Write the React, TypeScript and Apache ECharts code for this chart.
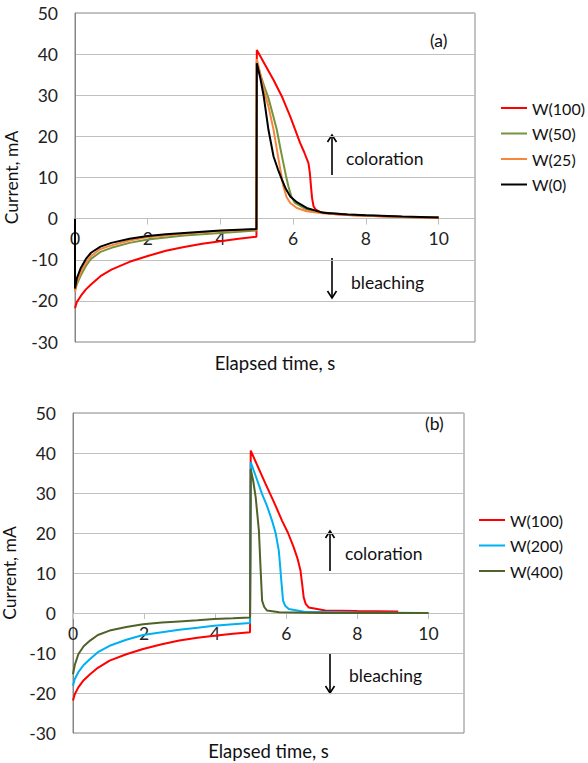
import React, { useEffect, useRef } from "react";
import * as echarts from "echarts";

type Pt = [number, number];

// ---------- Chart (a) ----------
const a_W100: Pt[] = [
  [0, -21.8], [0.05, -20.3], [0.16, -18.8], [0.3, -17.2], [0.44, -16], [0.7, -14], [1, -12.4],
  [1.5, -10.5], [2, -9.1], [2.5, -7.8], [3, -6.9], [3.5, -6.1], [4, -5.5], [4.5, -4.9], [4.99, -4.4],
  [5.0, 41], [5.46, 33.7], [5.7, 29.5], [5.92, 24.8], [6.19, 18.4], [6.3, 16.2], [6.42, 13.5],
  [6.46, 11], [6.49, 7.8], [6.52, 5], [6.56, 3], [6.62, 2.2], [6.75, 1.6], [7, 1.2], [7.5, 0.9],
  [8, 0.7], [9, 0.4], [10, 0.3],
];
const a_W50: Pt[] = [
  [0, -17.5], [0.05, -16], [0.16, -13.8], [0.3, -11.5], [0.44, -9.8], [0.7, -8.1], [1, -7.1],
  [1.5, -5.9], [2, -5.1], [2.5, -4.6], [3, -4.1], [3.5, -3.8], [4, -3.5], [4.5, -3.2], [4.99, -2.9],
  [5.0, 38], [5.1, 35], [5.2, 32.3], [5.32, 29.3], [5.45, 25], [5.55, 21.6], [5.65, 17], [5.73, 13.5],
  [5.8, 10.5], [5.87, 7.8], [5.95, 5.4], [6.05, 3.8], [6.37, 2.2], [6.8, 1.5], [7.5, 1.0], [8, 0.8],
  [9, 0.4], [10, 0.3],
];
const a_W25: Pt[] = [
  [0, -17.8], [0.05, -15.5], [0.16, -13], [0.3, -10.7], [0.44, -9.1], [0.7, -7.4], [1, -6.5],
  [1.5, -5.3], [2, -4.5], [2.5, -4.1], [3, -3.7], [3.5, -3.3], [4, -3.0], [4.5, -2.8], [4.99, -2.6],
  [5.0, 38.8], [5.1, 35], [5.2, 31], [5.32, 27.3], [5.46, 21.6], [5.6, 14.3], [5.73, 7.8], [5.82, 5.2],
  [5.92, 3.8], [6.1, 2.6], [6.37, 1.8], [6.8, 1.3], [7.5, 0.9], [8, 0.7], [9, 0.4], [10, 0.3],
];
const a_W0: Pt[] = [
  [0, 0], [0, -17], [0.05, -14.5], [0.16, -12], [0.3, -9.8], [0.44, -8.3], [0.7, -6.8], [1, -5.9],
  [1.5, -4.9], [2, -4.2], [2.5, -3.8], [3, -3.5], [3.5, -3.2], [4, -2.9], [4.5, -2.7], [4.99, -2.5],
  [5.0, 37.8], [5.1, 34], [5.19, 29.7], [5.32, 21.6], [5.46, 15.1], [5.58, 12], [5.69, 9.5], [5.8, 7.2],
  [5.92, 5.4], [6.1, 4], [6.37, 2.6], [6.83, 1.4], [7.5, 1.0], [8, 0.8], [9, 0.5], [10, 0.3],
];

// ---------- Chart (b) ----------
const b_W100: Pt[] = [
  [0, -21.9], [0.05, -20.3], [0.15, -18.6], [0.3, -16.8], [0.48, -15.3], [0.7, -13.7], [1.03, -11.9],
  [1.5, -10.3], [1.97, -9.0], [2.5, -7.8], [2.99, -6.9], [3.5, -6.2], [3.97, -5.7], [4.5, -5.2], [4.98, -4.8],
  [5.0, 40.6], [5.42, 32.2], [5.65, 27.8], [5.88, 23.1], [6.05, 20], [6.21, 16.4], [6.32, 13.5], [6.4, 10.6],
  [6.45, 7], [6.49, 3.9], [6.55, 2.2], [6.63, 1.4], [7.1, 0.6], [8, 0.5], [9.15, 0.4],
];
const b_W200: Pt[] = [
  [0, -18.2], [0.05, -16.5], [0.15, -14.8], [0.3, -13], [0.48, -11.5], [0.7, -9.8], [1.03, -8.2],
  [1.5, -6.7], [1.97, -5.5], [2.5, -4.8], [2.99, -4.2], [3.5, -3.7], [3.97, -3.2], [4.5, -2.8], [4.98, -2.5],
  [5.0, 37.7], [5.15, 34], [5.32, 29.7], [5.46, 26.7], [5.6, 23.1], [5.7, 20], [5.79, 15.6], [5.83, 11.5],
  [5.86, 8.1], [5.91, 3.1], [5.97, 1.8], [6.07, 1], [6.5, 0.3], [8, 0.1], [10, 0],
];
const b_W400: Pt[] = [
  [0, -15.3], [0.05, -13], [0.15, -10.3], [0.3, -8.3], [0.48, -6.9], [0.7, -5.5], [1.03, -4.4],
  [1.5, -3.5], [1.97, -2.8], [2.5, -2.4], [2.99, -2.1], [3.5, -1.8], [3.97, -1.5], [4.5, -1.3], [4.98, -1.1],
  [5.0, 36], [5.07, 33], [5.14, 28.9], [5.23, 20.6], [5.28, 10.6], [5.32, 3.1], [5.38, 1.5], [5.46, 0.6],
  [5.8, 0.2], [7, 0], [10, 0],
];

const xTicks = [0, 2, 4, 6, 8, 10];
const Y_MIN = -30;
const Y_MAX = 50;
const legendA = ["W(100)", "W(50)", "W(25)", "W(0)"];
const legendB = ["W(100)", "W(200)", "W(400)"];

const FONT = "Lato, 'Liberation Sans', sans-serif";
const GRID_LINE = "#c0c0c0";
const BORDER = "#868686";
const TICK_FS = 17.5;
const NAME_FS = 18.5;
const YNAME_FS = 17.5;
const NOTE_FS = 17.5;

const RED = "#ff0000";
const GREEN = "#77933c";
const ORANGE = "#f7863a";
const BLACK = "#000000";
const BLUE = "#00b0f0";
const OLIVE = "#4f6228";

const GRID_A = { left: 75, top: 13, width: 400, height: 329 };
const GRID_B = { left: 73, top: 413, width: 391, height: 320 };

// x axis drawn through y = 0: shift it up from the bottom edge by the zero position
function zeroOffset(h: number) {
  return -(h * (0 - Y_MIN)) / (Y_MAX - Y_MIN);
}

function xAxis(gridIndex: number, gridH: number, nameGap: number) {
  return {
    type: "value",
    gridIndex,
    min: 0,
    max: 11,
    interval: 1,
    position: "bottom",
    offset: zeroOffset(gridH),
    axisLine: { onZero: false, lineStyle: { color: GRID_LINE, width: 1 } },
    axisTick: { show: true, length: 6, customValues: xTicks, lineStyle: { color: GRID_LINE } },
    axisLabel: { customValues: xTicks, margin: 11, fontSize: TICK_FS, color: "#222", fontFamily: FONT },
    splitLine: { show: false },
    name: "Elapsed time, s",
    nameLocation: "middle",
    nameGap,
    nameTextStyle: { fontSize: NAME_FS, color: "#111", fontFamily: FONT },
  };
}

function yAxis(gridIndex: number, nameGap: number) {
  return {
    type: "value",
    gridIndex,
    min: Y_MIN,
    max: Y_MAX,
    interval: 10,
    axisLine: { show: true, onZero: false, lineStyle: { color: BORDER, width: 1 } },
    axisTick: { show: false },
    axisLabel: { margin: 17, fontSize: TICK_FS, color: "#222", fontFamily: FONT },
    splitLine: { show: true, lineStyle: { color: GRID_LINE, width: 1 } },
    name: "Current, mA",
    nameLocation: "middle",
    nameGap,
    nameTextStyle: { fontSize: YNAME_FS, color: "#111", fontFamily: FONT },
  };
}

function line(name: string, data: Pt[], color: string, idx: number, z = 2) {
  return {
    type: "line",
    name,
    data,
    xAxisIndex: idx,
    yAxisIndex: idx,
    symbol: "none",
    smooth: false,
    z,
    lineStyle: { color, width: 2 },
    itemStyle: { color },
  };
}

function arrow(x: number, yTop: number, yBottom: number, up: boolean) {
  const tipY = up ? yTop : yBottom;
  const dir = up ? 1 : -1;
  return {
    type: "group",
    children: [
      { type: "line", shape: { x1: x, y1: yTop, x2: x, y2: yBottom }, style: { stroke: "#000", lineWidth: 1.6 } },
      {
        type: "polyline",
        shape: { points: [[x - 4.5, tipY + dir * 7], [x, tipY], [x + 4.5, tipY + dir * 7]] },
        style: { stroke: "#000", lineWidth: 1.6, fill: null },
      },
    ],
  };
}

function label(text: string, x: number, y: number) {
  return {
    type: "text",
    x,
    y,
    style: { text, fontSize: NOTE_FS, fontFamily: FONT, fill: "#111", verticalAlign: "middle" },
  };
}

const legendBase = {
  orient: "vertical",
  icon: "rect",
  itemHeight: 2,
  itemGap: 9.5,
  textStyle: { fontSize: 16, fontFamily: FONT, color: "#111" },
};

export default function App() {
  const ref = useRef<HTMLDivElement>(null);
  useEffect(() => {
    document.body.style.margin = "0";
    const chart = echarts.init(ref.current!, null, { renderer: "svg" });
    const option: any = {
      animation: false,
      backgroundColor: "#ffffff",
      grid: [
        { ...GRID_A, show: true, borderColor: BORDER, borderWidth: 1, containLabel: false, outerBoundsMode: "none" },
        { ...GRID_B, show: true, borderColor: BORDER, borderWidth: 1, containLabel: false, outerBoundsMode: "none" },
      ],
      xAxis: [xAxis(0, GRID_A.height, 135), xAxis(1, GRID_B.height, 128)],
      yAxis: [yAxis(0, 47), yAxis(1, 45)],
      legend: [
        { ...legendBase, data: legendA, left: 496, top: 95, itemWidth: 26 },
        { ...legendBase, data: legendB, left: 474, top: 507, itemWidth: 26 },
      ],
      series: [
        line("W(100)", a_W100, RED, 0, 2),
        line("W(50)", a_W50, GREEN, 0, 3),
        line("W(25)", a_W25, ORANGE, 0, 4),
        line("W(0)", a_W0, BLACK, 0, 5),
        line("W(100)", b_W100, RED, 1, 2),
        line("W(200)", b_W200, BLUE, 1, 3),
        line("W(400)", b_W400, OLIVE, 1, 4),
      ],
      graphic: [
        label("(a)", 430, 40),
        label("(b)", 425, 423),
        arrow(332, 135, 175, true),
        label("coloration", 346, 158),
        arrow(332, 258, 298, false),
        label("bleaching", 351, 282),
        arrow(330, 531, 571, true),
        label("coloration", 345, 553),
        arrow(330, 653, 693, false),
        label("bleaching", 349, 675),
      ],
    };
    chart.setOption(option);
    return () => chart.dispose();
  }, []);
  return <div ref={ref} style={{ width: 588, height: 763 }} />;
}
